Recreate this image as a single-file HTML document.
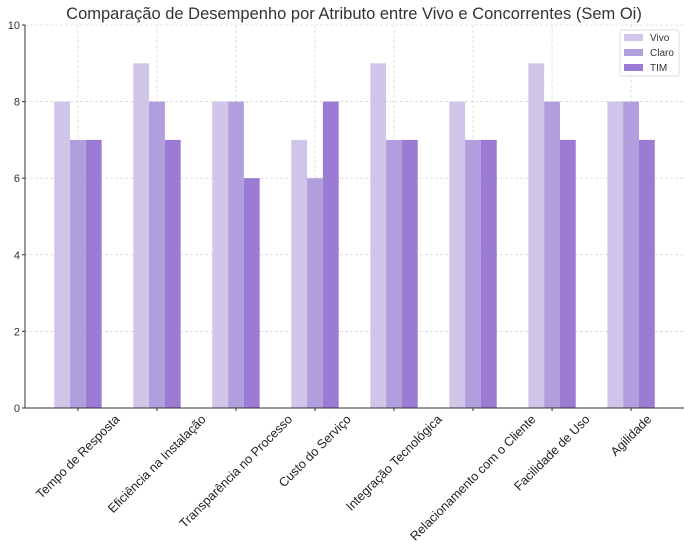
<!DOCTYPE html>
<html><head><meta charset="utf-8"><style>
body{margin:0;background:#fff}
text{font-family:"Liberation Sans","DejaVu Sans",sans-serif}
</style></head><body>
<svg id="c" width="688" height="550" xmlns="http://www.w3.org/2000/svg"></svg>
<script>
const categories=["Tempo de Resposta","Eficiência na Instalação","Transparência no Processo","Custo do Serviço","Integração Tecnológica","Relacionamento com o Cliente","Facilidade de Uso","Agilidade"];
const vivo=[8,9,8,7,9,8,9,8];
const claro=[7,8,8,6,7,7,8,8];
const tim=[7,7,6,8,7,7,7,7];
const yTicks=[0,2,4,6,8,10];
const seriesNames=["Vivo","Claro","TIM"];
const colors=["#d1c5ea","#b19edd","#9b7bd3"];
const svg=document.getElementById('c');
const NS="http://www.w3.org/2000/svg";
const L=25,R=684,T=25,B=408;
const xmin=-0.67,xmax=7.67;
const X=v=>L+(v-xmin)/(xmax-xmin)*(R-L);
const Y=v=>B-v/10*(B-T);
function mk(t,a,p){const e=document.createElementNS(NS,t);for(const k in a)e.setAttribute(k,a[k]);(p||svg).appendChild(e);return e;}
const title=mk('text',{x:354,y:19,'text-anchor':'middle','font-size':16.5,fill:'#333'});


title.textContent="Comparação de Desempenho por Atributo entre Vivo e Concorrentes (Sem Oi)";
yTicks.forEach(t=>{
 const g=mk('line',{x1:L,x2:R,y1:Y(t),y2:Y(t),stroke:'#ccc','stroke-dasharray':'3,2','stroke-width':0.6});
 
 
 const tx=mk('text',{x:L-5,y:Y(t)+4,'text-anchor':'end','font-size':11,fill:'#333'});
 
 
 tx.textContent=t;
 mk('line',{x1:L-3,x2:L,y1:Y(t),y2:Y(t),stroke:'#333'});
});
categories.forEach((c,i)=>{
 const g=mk('line',{x1:X(i),x2:X(i),y1:T,y2:B,stroke:'#ccc','stroke-dasharray':'3,2','stroke-width':0.6});
 
 
});
const w=0.2;
[vivo,claro,tim].forEach((s,si)=>{
 s.forEach((v,i)=>{
  const x0=X(i+(si-1)*w-w/2),x1=X(i+(si-1)*w+w/2);
  const r=mk('rect',{x:x0,y:Y(v),width:x1-x0,height:Y(0)-Y(v),fill:colors[si]});
  
  
 });
});
categories.forEach((c,i)=>{
 mk('line',{x1:X(i),x2:X(i),y1:B,y2:B+3,stroke:'#333'});
 const tx=mk('text',{'text-anchor':'middle','font-size':12.6,fill:'#222'});
 
 
 tx.textContent=c;
 const len=tx.getComputedTextLength();
 const h=(len+12)*0.7071;
 const cy=B+5+h/2;
 tx.setAttribute('x',0);tx.setAttribute('y',4);
 tx.setAttribute('transform',`translate(${X(i)},${cy}) rotate(-45)`);
});
mk('line',{x1:L,x2:L,y1:T,y2:B,stroke:'#333'});
mk('line',{x1:L,x2:R,y1:B,y2:B,stroke:'#333'});
const lg=mk('g',{});


mk('rect',{x:620,y:30,width:59,height:46,fill:'#fff',stroke:'#ddd',rx:2},lg);
seriesNames.forEach((n,i)=>{
 const e=mk('g',{},lg);
 
 
 mk('rect',{x:624,y:34+i*15,width:19,height:7,fill:colors[i]},e);
 const t=mk('text',{x:650,y:41+i*15,'font-size':10,fill:'#333'},e);
 t.textContent=n;
});
</script>
</body></html>
